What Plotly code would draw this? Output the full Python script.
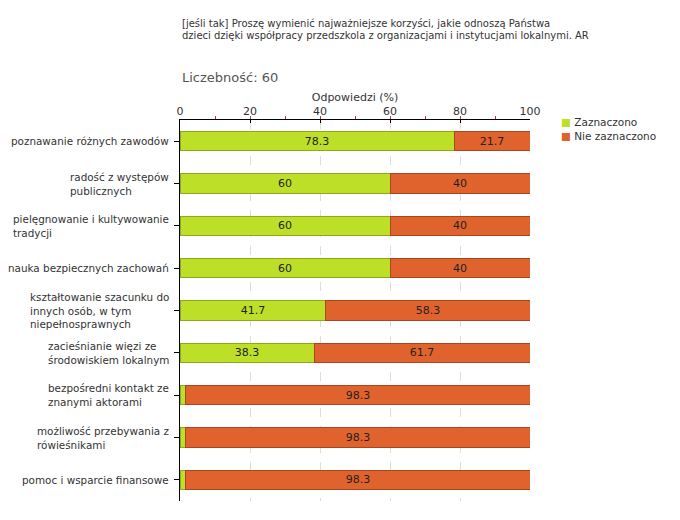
import plotly.graph_objects as go

categories = [
    "poznawanie różnych zawodów",
    "radość z występów<br>publicznych",
    "pielęgnowanie i kultywowanie<br>tradycji",
    "nauka bezpiecznych zachowań",
    "kształtowanie szacunku do<br>innych osób, w tym<br>niepełnosprawnych",
    "zacieśnianie więzi ze<br>środowiskiem lokalnym",
    "bezpośredni kontakt ze<br>znanymi aktorami",
    "możliwość przebywania z<br>rówieśnikami",
    "pomoc i wsparcie finansowe",
]
zaznaczono = [78.3, 60, 60, 60, 41.7, 38.3, 1.7, 1.7, 1.7]
nie_zaznaczono = [21.7, 40, 40, 40, 58.3, 61.7, 98.3, 98.3, 98.3]
x_ticks = [0, 20, 40, 60, 80, 100]
series_names = ["Zaznaczono", "Nie zaznaczono"]
fill_colors = ["#BEDF27", "#E0622D"]
edge_colors = ["#8FA81A", "#A9461D"]
title_lines = [
    "[jeśli tak] Proszę wymienić najważniejsze korzyści, jakie odnoszą Państwa",
    "dzieci dzięki współpracy przedszkola z organizacjami i instytucjami lokalnymi. AR",
]

FONT = "DejaVu Sans"
TXT = "#333333"


def fmt(v):
    if v < 5:
        return ""
    return ("%g" % v)


fig = go.Figure()
for vals, name, fc, ec in zip([zaznaczono, nie_zaznaczono], series_names, fill_colors, edge_colors):
    fig.add_trace(go.Bar(
        y=categories, x=vals, orientation="h", name=name, showlegend=False,
        marker=dict(color=fc, line=dict(color=ec, width=1)),
        text=[fmt(v) for v in vals], textposition="inside",
        insidetextanchor="middle", textangle=0,
        textfont=dict(color="#222222", size=11, family=FONT),
    ))

annotations = []
for c in categories:
    annotations.append(dict(
        xref="paper", yref="y", x=-0.026, y=c, text=c, showarrow=False,
        xanchor="right", yanchor="middle", align="left",
        font=dict(family=FONT, size=10.4, color=TXT),
    ))
# legend (text with coloured square glyph)
for i, (name, fc) in enumerate(zip(series_names, fill_colors)):
    annotations.append(dict(
        xref="paper", yref="paper", x=1.083, y=0.9948 - i * 0.0367,
        xanchor="left", yanchor="middle", showarrow=False,
        text='<span style="color:%s">■</span> %s' % (fc, name),
        font=dict(family=FONT, size=10.5, color=TXT),
    ))
for i, line in enumerate(title_lines):
    annotations.append(dict(
        xref="paper", yref="paper", x=0, y=1.2520 - i * 0.0315,
        xanchor="left", yanchor="middle", showarrow=False,
        text=line, font=dict(family=FONT, size=10, color=TXT),
    ))
annotations.append(dict(
    xref="paper", yref="paper", x=0, y=1.1126, xanchor="left", yanchor="middle",
    showarrow=False, text="Liczebność: 60",
    font=dict(family=FONT, size=13, color="#555555"),
))

fig.update_layout(
    width=680, height=520,
    margin=dict(l=180, r=150, t=120, b=19),
    barmode="stack", bargap=0.55, showlegend=False,
    plot_bgcolor="white", paper_bgcolor="white",
    font=dict(family=FONT, size=11, color=TXT),
    annotations=annotations,
    xaxis=dict(
        side="top", range=[0, 100], tickvals=x_ticks,
        title=dict(text="Odpowiedzi (%)", standoff=0,
                   font=dict(family=FONT, size=11, color=TXT)),
        showline=True, linecolor="black", linewidth=1,
        ticks="inside", ticklen=3, tickcolor="black",
        showgrid=True, gridcolor="#dddddd", griddash="dash",
        zeroline=False,
        minor=dict(dtick=10, ticks="outside", ticklen=3, tickcolor="#cc3333", showgrid=False),
        tickfont=dict(family=FONT, size=11, color=TXT),
    ),
    yaxis=dict(
        autorange="reversed", showticklabels=False,
        showline=True, linecolor="black", linewidth=1,
        ticks="outside", ticklen=5, tickcolor="black",
        showgrid=False,
    ),
)

fig.write_html("out.html")
